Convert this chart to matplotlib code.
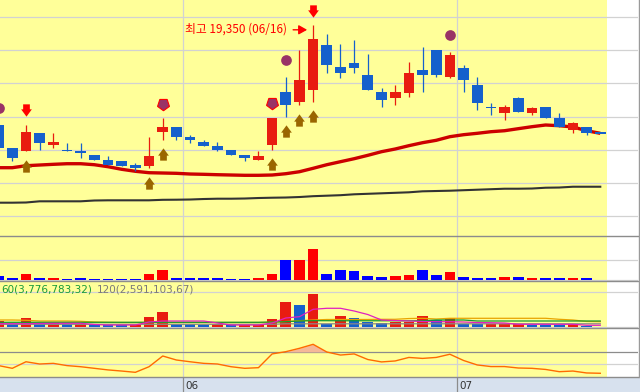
import numpy as np
import matplotlib
matplotlib.use("Agg")
import matplotlib.pyplot as plt
from matplotlib import font_manager
from matplotlib.lines import Line2D
from matplotlib.path import Path
from matplotlib.transforms import offset_copy, blended_transform_factory

# ---------------- data ----------------
opens  = [16350, 15650, 15550, 16100, 15750, 15600, 15550, 15450, 15300, 15250,
          15150, 15100, 16150, 16300, 16000, 15850, 15700, 15600, 15450, 15300,
          15750, 17350, 17050, 17400, 18750, 18100, 18200, 17850, 17350, 17150,
          17300, 18000, 18600, 17800, 18050, 17550, 16900, 16700, 17150, 16700,
          16900, 16550, 16200, 16300, 16100]
highs  = [16350, 15650, 16350, 16100, 16100, 15800, 15800, 15450, 15400, 15250,
          15200, 16000, 16550, 16300, 16050, 15900, 15850, 15600, 15450, 15550,
          16550, 17800, 18600, 19350, 19100, 18800, 18900, 18500, 17450, 17550,
          18250, 18700, 18600, 18550, 18150, 17800, 17000, 16950, 17200, 16900,
          16900, 16700, 16450, 16300, 16100]
lows   = [15650, 15250, 15550, 15600, 15650, 15550, 15350, 15300, 15150, 15100,
          14950, 15050, 15900, 15900, 15800, 15700, 15550, 15450, 15250, 15300,
          15600, 16600, 16950, 17050, 17900, 17750, 17900, 17400, 16900, 16950,
          17200, 17350, 17800, 17750, 17350, 16800, 16650, 16500, 16750, 16650,
          16550, 16300, 16100, 16050, 16100]
closes = [15650, 15350, 16150, 15800, 15850, 15550, 15500, 15300, 15150, 15100,
          15050, 15400, 16300, 16000, 15900, 15700, 15600, 15450, 15350, 15400,
          16550, 16950, 17700, 18950, 18150, 17900, 18050, 17400, 17100, 17350,
          17900, 17850, 17850, 18450, 17700, 17000, 16850, 16900, 16750, 16850,
          16550, 16300, 16400, 16100, 16100]
ma_mid  = [15061, 15061, 15121, 15142, 15163, 15181, 15181, 15151, 15091, 15013,
           14953, 14910, 14901, 14892, 14871, 14862, 14850, 14841, 14832, 14832,
           14841, 14880, 14940, 15043, 15151, 15242, 15332, 15434, 15543, 15624,
           15724, 15814, 15886, 15995, 16055, 16097, 16145, 16175, 16236, 16296,
           16347, 16326, 16287, 16175, 16097]
ma_long = [14007, 14007, 14013, 14049, 14049, 14049, 14049, 14073, 14079, 14079,
           14079, 14079, 14094, 14097, 14103, 14118, 14127, 14127, 14133, 14148,
           14157, 14163, 14178, 14203, 14218, 14233, 14260, 14275, 14290, 14305,
           14320, 14350, 14359, 14368, 14383, 14398, 14413, 14428, 14428, 14434,
           14458, 14464, 14488, 14488, 14488]
amount = [64, 32, 96, 32, 32, 16, 32, 16, 16, 16,
          16, 96, 160, 32, 32, 32, 32, 16, 16, 32,
          96, 320, 320, 496, 96, 160, 144, 64, 48, 64,
          80, 160, 80, 128, 48, 32, 32, 48, 48, 32,
          32, 32, 32, 32, 0]
volume = [5.4, 2.3, 7.7, 2.3, 3.4, 2.3, 2.4, 2.3, 1.7, 1.6,
          1.8, 8.5, 12.8, 2.3, 2.2, 2.1, 2.3, 1.7, 1.8, 1.9,
          6.8, 21.3, 18.7, 28.1, 2.3, 9.4, 7.7, 4.0, 3.1, 4.0,
          4.5, 9.4, 6.0, 7.4, 2.3, 2.2, 2.3, 2.4, 2.5, 1.7,
          1.6, 1.5, 2.3, 0.9, 0.0]
vol_ma5 = [2.81, 2.81, 2.81, 2.98, 3.15, 3.15, 3.15, 2.13, 1.70, 1.70,
           1.70, 4.25, 5.10, 5.10, 5.10, 5.10, 3.40, 1.70, 1.70, 1.70,
           3.40, 7.65, 8.76, 15.05, 15.9, 15.9, 13.6, 10.6, 5.95, 5.5,
           5.1, 4.7, 4.5, 4.5, 4.25, 3.8, 3.65, 3.4, 2.3, 2.3,
           2.3, 2.3, 2.3, 1.45, 1.45]
vol_ma20 = [5.95, 5.95, 5.7, 5.1, 5.1, 5.1, 4.85, 4.25, 4.0, 3.83,
            3.83, 3.83, 3.83, 3.83, 3.83, 3.83, 3.83, 3.83, 3.83, 3.83,
            4.0, 4.68, 5.36, 5.95, 6.38, 6.38, 6.38, 6.38, 6.55, 6.55,
            7.2, 7.4, 6.8, 7.4, 7.4, 7.4, 7.4, 7.4, 7.4, 7.4,
            7.4, 6.55, 5.95, 4.68, 4.5]
vol_ma60 = [4.0] * 20 + [4.25, 4.5, 5.1, 5.36, 5.36, 5.3, 5.3, 5.3, 5.3, 5.3,
                         5.3, 5.3, 5.95, 5.95, 5.95, 5.1, 5.1, 5.1, 5.1, 5.1,
                         5.1, 5.1, 5.1, 5.1, 5.1]
vol_ma120 = [2.3] * 21 + [2.72] * 24
osc = [65, 48, 89, 75, 79, 65, 58, 48, 38, 31,
       23, 58, 125, 100, 89, 79, 75, 58, 48, 52,
       138, 152, 173, 198, 150, 131, 138, 103, 88, 94,
       116, 110, 116, 136, 97, 69, 59, 59, 50, 48,
       41, 27, 31, 19, 17]
buy_signal_idx = [2, 11, 12, 20, 21, 22, 23]
sell_signal_idx = [2, 23]
circle_idx = [0, 21, 33]
circle_price = [16870, 18290, 19050]
pent_idx = [12, 20]
pent_price = [16980, 17000]
month_labels = ['06', '07']
month_start_idx = [14, 34]
high_date = '06/16'
ma_legend = [('60', '3,776,783,32'), ('120', '2,591,103,67')]

# ---------------- layout ----------------
n = len(closes)
x = np.arange(n)
o, h, l, c = map(np.array, (opens, highs, lows, closes))

W, H = 640, 392
PLOT_W = 638
SLOT_PX = 13.674
X_LEFT = 0.1
XLIM = (X_LEFT, X_LEFT + PLOT_W / SLOT_PX)

YELLOW = '#ffff99'
GRID = '#d2d2d2'
BORDER = '#8c8c8c'
UP = '#e81c10'
DOWN = '#1560cc'

names = {f.name for f in font_manager.fontManager.ttflist}
NARROW = 'Liberation Sans Narrow' if 'Liberation Sans Narrow' in names else 'DejaVu Sans'
NSIZE = 10 if NARROW == 'Liberation Sans Narrow' else 7.5

fig = plt.figure(figsize=(W / 100, H / 100), dpi=100)
fig.patch.set_facecolor('white')


def panel(top, bottom, ylim):
    ax = fig.add_axes([0, 1 - bottom / H, PLOT_W / W, (bottom - top) / H])
    ax.set_facecolor('white')
    for s in ax.spines.values():
        s.set_visible(False)
    ax.set_xticks([])
    ax.set_yticks([])
    ax.set_xlim(*XLIM)
    ax.set_ylim(*ylim)
    ax.axvspan(XLIM[0], n - 0.5, color=YELLOW, lw=0, zorder=0)
    for m in month_start_idx:
        ax.axvline(m - 0.5, color=GRID, lw=0.9, zorder=0.5)
    return ax


# ---------------- price panel ----------------
axp = panel(0, 236, (13004, 20112))
for g in range(19600, 13000, -1000):
    axp.axhline(g, color=GRID, lw=0.9, zorder=0.5)

axp.plot(x, ma_long, color='#333333', lw=1.5, zorder=2)
axp.plot(x, ma_mid, color='#cc0000', lw=2.4, zorder=2, solid_capstyle='butt')

up = c > o
ccol = np.where(up, UP, DOWN)
min_body = 48
body_lo = np.minimum(o, c).astype(float)
body_h = np.abs(c - o).astype(float)
flat = body_h < min_body
body_lo = np.where(flat, (o + c) / 2 - min_body / 2, body_lo)
body_h = np.maximum(body_h, min_body)
axp.vlines(x, l, h, colors=ccol, lw=0.9, zorder=3)
axp.bar(x, body_h, bottom=body_lo, width=0.78, color=ccol, lw=0, zorder=3.1)

# arrow markers
av = [(-3.35, 6.15), (3.35, 6.15), (3.35, 1.15), (5.35, 1.15), (0, -6.15),
      (-5.35, 1.15), (-3.35, 1.15), (-3.35, 6.15)]
codes = [Path.MOVETO] + [Path.LINETO] * 6 + [Path.CLOSEPOLY]
down_arrow = Path(av, codes)
up_arrow = Path([(vx, -vy) for vx, vy in av], codes)
ams = 12.3 * 0.72
tr_sell = offset_copy(axp.transData, fig=fig, x=0, y=14.5, units='dots')
tr_buy = offset_copy(axp.transData, fig=fig, x=0, y=-14.6, units='dots')
axp.plot(sell_signal_idx, h[sell_signal_idx], ls='none', marker=down_arrow,
         ms=ams, mfc='#ff0000', mew=0, transform=tr_sell, zorder=4)
axp.plot(buy_signal_idx, l[buy_signal_idx], ls='none', marker=up_arrow,
         ms=ams, mfc='#9a6600', mew=0, transform=tr_buy, zorder=4)
axp.plot(circle_idx, circle_price, ls='none', marker='o', ms=7.7,
         mfc='#993366', mew=0, zorder=4)
axp.plot(pent_idx, pent_price, ls='none', marker=(5, 0, 180), ms=9,
         mfc='#993366', mec='#ff0000', mew=0.8, zorder=4)

hi = int(np.argmax(h))
tr_txt = offset_copy(axp.transData, fig=fig, x=-26, y=-3.7, units='dots')
axp.text(hi, h[hi], f"최고 {h[hi]:,} ({high_date})", transform=tr_txt,
         ha='right', va='center', color='#ff0000', fontsize=8.5,
         family=['Noto Sans CJK KR', 'DejaVu Sans'], zorder=5)
tr_tip = offset_copy(axp.transData, fig=fig, x=-6, y=-4.5, units='dots')
axp.annotate('', xy=(hi, h[hi]), xycoords=tr_tip, xytext=(-14 * 0.72, 0),
             textcoords='offset points',
             arrowprops=dict(arrowstyle='-|>,head_length=0.5,head_width=0.28',
                             color='#ff0000', lw=1.0, shrinkA=0, shrinkB=0,
                             mutation_scale=10), zorder=5)

# ---------------- amount panel ----------------
axa = panel(236, 281, (-16, 704))
axa.axhline(320, color=GRID, lw=0.9, zorder=0.5)
axa.axhline(0, color=GRID, lw=0.9, zorder=0.5)
axa.bar(x, amount, width=0.78, color=np.where(up, '#ff0000', '#0000ff'),
        lw=0, zorder=2)

# ---------------- volume panel ----------------
axv = panel(281, 328, (-0.85, 39.1))
axv.axhline(30, color=GRID, lw=0.9, zorder=0.5)
axv.axhline(0, color=GRID, lw=0.9, zorder=0.5)
vol = np.array(volume)
prev = np.concatenate([[0.0], vol[:-1]])
axv.bar(x, vol, width=0.78, color=np.where(vol > prev, UP, DOWN), lw=0, zorder=2)
axv.plot(x, vol_ma120, color='#888888', lw=0.9, zorder=3)
axv.plot(x, vol_ma60, color='#149a2e', lw=0.9, zorder=3.2)
axv.plot(x, vol_ma20, color='#e8a400', lw=0.9, zorder=3.1)
axv.plot(x, vol_ma5, color='#e020c0', lw=0.9, zorder=3.3)
fig.text(1 / W, 1 - 290 / H, f"{ma_legend[0][0]}({ma_legend[0][1]})",
         color='#179a3a', fontsize=NSIZE, family=NARROW, va='center', ha='left')
fig.text(97 / W, 1 - 290 / H, f"{ma_legend[1][0]}({ma_legend[1][1]})",
         color='#7a7a7a', fontsize=NSIZE, family=NARROW, va='center', ha='left')

# ---------------- oscillator panel ----------------
axo = panel(328, 377, (-6.25, 300))
axo.axhline(150, color=BORDER, lw=0.9, zorder=0.5)
axo.axhline(75, color=GRID, lw=0.9, zorder=0.5)
oscv = np.array(osc, dtype=float)
axo.fill_between(x, oscv, 150, where=oscv > 150, interpolate=True,
                 color='#f5b898', lw=0, zorder=1)
axo.plot(x, oscv, color='#ff6a00', lw=1.0, zorder=2)

# ---------------- date strip ----------------
axs = fig.add_axes([0, 0, 1, 15 / H])
axs.set_facecolor('#d7e1ee')
for s in axs.spines.values():
    s.set_visible(False)
axs.set_xticks([])
axs.set_yticks([])
axs.set_xlim(X_LEFT, X_LEFT + W / SLOT_PX)
axs.set_ylim(0, 1)
tr_lab = offset_copy(blended_transform_factory(axs.transData, axs.transAxes),
                     fig=fig, x=2.5, y=0, units='dots')
for m, lab in zip(month_start_idx, month_labels):
    axs.axvline(m - 0.5, color=BORDER, lw=0.9)
    axs.text(m - 0.5, 0.42, lab, transform=tr_lab, ha='left', va='center',
             color='#333333', fontsize=NSIZE, family=NARROW)

# ---------------- borders ----------------
for yb in (236, 281, 328, 377):
    fig.add_artist(Line2D([0, PLOT_W / W], [1 - yb / H] * 2,
                          transform=fig.transFigure, color=BORDER, lw=1.0))
fig.add_artist(Line2D([PLOT_W / W + 0.5 / W] * 2, [1 - 377 / H, 1],
                      transform=fig.transFigure, color='#9a9a9a', lw=1.0))

fig.savefig('out.png', dpi=100, facecolor='white')
